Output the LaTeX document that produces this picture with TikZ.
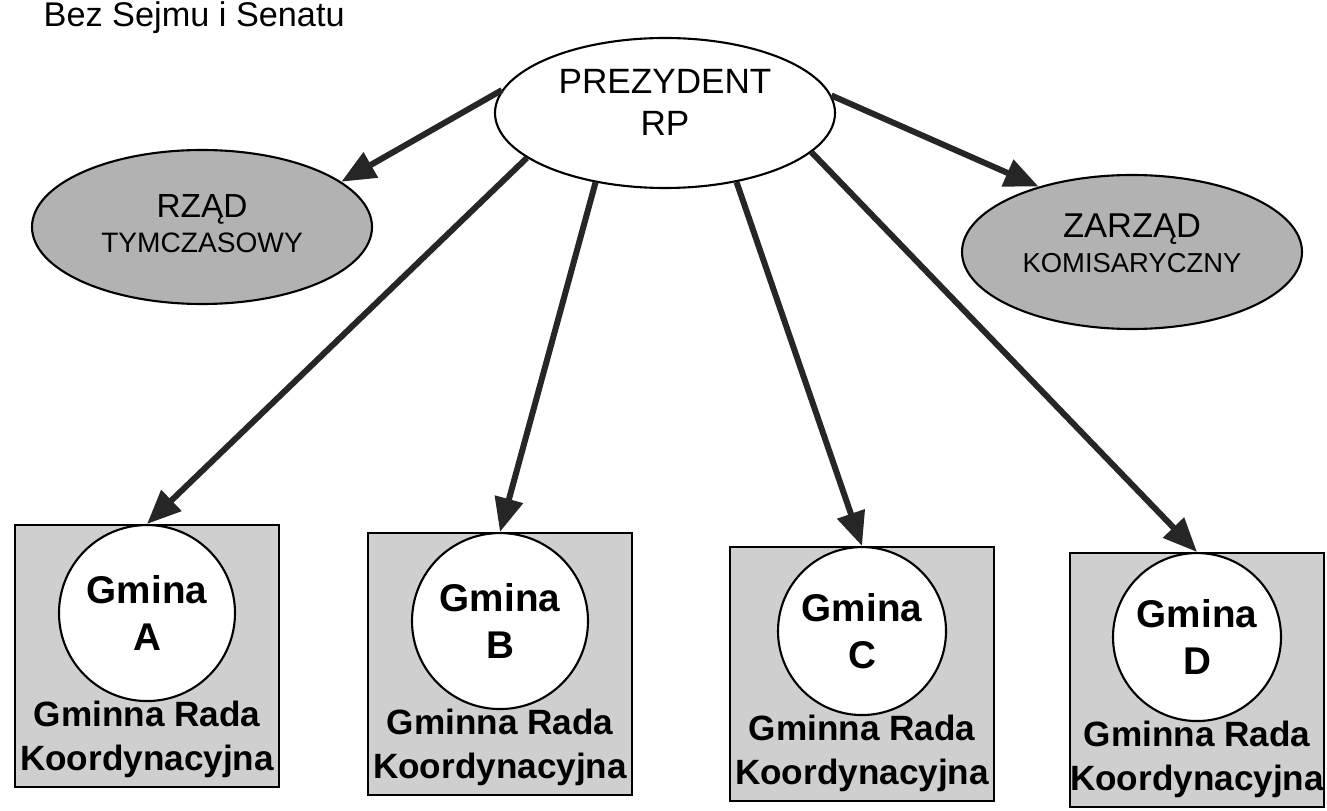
\documentclass[tikz,border=0pt]{standalone}
\usepackage{fontspec}
\setmainfont{Liberation Sans}
\usetikzlibrary{shapes.geometric,arrows.meta,positioning}

\definecolor{ovalgray}{gray}{0.7}
\definecolor{boxgray}{gray}{0.81}

\tikzset{
  organ/.style={ellipse,draw,line width=0.6pt,fill=ovalgray,inner sep=0pt,
    minimum width=34mm,minimum height=15.4mm,align=center},
  gminabox/.style={rectangle,draw,line width=0.6pt,fill=boxgray,
    minimum width=26.4mm,minimum height=26.2mm,anchor=north},
  gminacircle/.style={circle,draw,line width=0.6pt,fill=white,minimum size=17.6mm,
    inner sep=0pt,anchor=north,align=center,font=\bfseries\fontsize{11}{13.4}\selectfont},
  rada/.style={inner sep=0pt,align=center,font=\bfseries\fontsize{10}{12.5}\selectfont},
  link/.style={line width=0.6mm,draw=black!85,fill=black!85,
    -{Triangle[length=3.4mm,width=2.8mm]}}
}

\begin{document}
\begin{tikzpicture}[x=0.1mm,y=-0.1mm]
                \useasboundingbox (0,0) rectangle (1327,811);
                \node[anchor=base west,inner sep=0pt,font=\fontsize{9.75}{12}\selectfont] (title) at (43,27) {Bez Sejmu i Senatu};
                % top: president and the two organs
                \node[organ,fill=white,minimum height=15mm,text depth=6pt,font=\fontsize{10}{12}\selectfont] (prez) at (665,113) {PREZYDENT\\RP};
                \node[organ,text depth=2pt,font=\fontsize{8}{10}\selectfont] (rzad) at (202,227) {{\fontsize{9.5}{10}\selectfont RZĄD}\\TYMCZASOWY};
                \node[organ,text depth=5pt,font=\fontsize{7.8}{10}\selectfont] (zarzad) at (1132,252) {{\fontsize{9.8}{10}\selectfont ZARZĄD}\\KOMISARYCZNY};
                % bottom: gminy
                \node[gminabox] (boxA) at (147,524) {};
                \node[gminacircle] (gA) at (boxA.north) {Gmina\\A};
                \node[rada,above=1mm of boxA.south] (radaA) {Gminna Rada\\Koordynacyjna};
                \node[gminabox] (boxB) at (500,532) {};
                \node[gminacircle] (gB) at (boxB.north) {Gmina\\B};
                \node[rada,above=1mm of boxB.south] (radaB) {Gminna Rada\\Koordynacyjna};
                \node[gminabox,minimum height=25.4mm] (boxC) at (862,546) {};
                \node[gminacircle,minimum size=16.8mm] (gC) at (boxC.north) {Gmina\\C};
                \node[rada,above=1mm of boxC.south] (radaC) {Gminna Rada\\Koordynacyjna};
                \node[gminabox,minimum width=25.4mm,minimum height=25.4mm] (boxD) at (1197,552) {};
                \node[gminacircle,minimum size=16.8mm] (gD) at (boxD.north) {Gmina\\D};
                \node[rada,above=1mm of boxD.south] (radaD) {Gminna Rada\\Koordynacyjna};
                % arrows
                \draw[link] (prez.172) -- (rzad.18);
                \draw[link] (prez.6) -- (zarzad.145);
                \draw[link] (prez.198) -- (gA.north);
                \draw[link] (prez.225) -- (gB.north);
                \draw[link] (prez.316) -- (gC.north);
                \draw[link] (prez.345) -- (gD.north);
            \end{tikzpicture}
\end{document}
